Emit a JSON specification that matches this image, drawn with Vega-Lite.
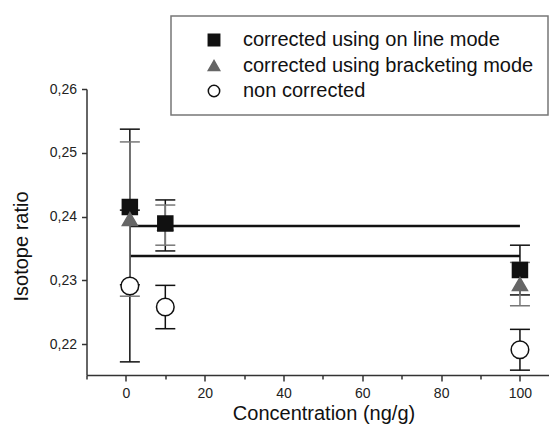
{
  "$schema": "https://vega.github.io/schema/vega-lite/v6.json",
  "autosize": {"type": "none"},
  "padding": {"left": 86.5, "top": 89, "right": 0, "bottom": 49},
  "width": 463,
  "height": 286,
  "background": "white",
  "config": {
    "view": {"stroke": null},
    "font": "Liberation Sans",
    "axis": {"domainColor": "#333", "domainWidth": 1.5, "tickColor": "#333", "tickWidth": 1.5, "grid": false, "labelFont": "Liberation Sans", "labelFontSize": 14, "labelColor": "#222", "titleFont": "Liberation Sans", "titleFontSize": 20, "titleFontWeight": "normal", "titleColor": "#111", "labelOverlap": false, "labelFlush": false},
    "legend": {"strokeWidth": 1.5, "orient": "none", "legendX": 84.5, "legendY": -73, "labelFontSize": 20, "labelFont": "Liberation Sans", "labelColor": "#111", "symbolSize": 130, "symbolStrokeWidth": 1.5, "padding": 14, "symbolOffset": 19, "labelOffset": 19, "rowPadding": 5.5, "strokeColor": "#777", "fillColor": "white", "labelLimit": 600, "labelExpr": "datum.label + '\u00a0\u00a0\u00a0\u00a0\u00a0\u00a0\u00a0\u00a0'"}
  },
  "datasets": {
    "points": [
      {"series": "corrected using on line mode", "x": 1, "y": 0.2415, "lo": 0.2293, "hi": 0.2537},
      {"series": "corrected using bracketing mode", "x": 1, "y": 0.2396, "lo": 0.2275, "hi": 0.2517},
      {"series": "corrected using bracketing mode", "x": 10, "y": 0.2389, "lo": 0.2355, "hi": 0.2418},
      {"series": "corrected using on line mode", "x": 10, "y": 0.2389, "lo": 0.2346, "hi": 0.2426},
      {"series": "corrected using on line mode", "x": 100, "y": 0.2316, "lo": 0.2277, "hi": 0.2355},
      {"series": "corrected using bracketing mode", "x": 100, "y": 0.2294, "lo": 0.226, "hi": 0.2328},
      {"series": "non corrected", "x": 1, "y": 0.2291, "lo": 0.2172, "hi": 0.241},
      {"series": "non corrected", "x": 10, "y": 0.2258, "lo": 0.2224, "hi": 0.2292},
      {"series": "non corrected", "x": 100, "y": 0.2191, "lo": 0.2159, "hi": 0.2223}
    ],
    "means": [
      {"x": 1, "x2": 100, "y": 0.2385},
      {"x": 1, "x2": 100, "y": 0.2338}
    ]
  },
  "layer": [
    {
      "data": {"name": "means"},
      "mark": {"type": "rule", "strokeWidth": 2.5, "color": "#111"},
      "encoding": {
        "x": {"field": "x", "type": "quantitative", "scale": {"domain": [-10, 107.5], "nice": false, "zero": false},
          "axis": {"title": "Concentration (ng/g)", "values": [-10, 0, 10, 20, 30, 40, 50, 60, 70, 80, 90, 100],
            "labelExpr": "datum.value % 20 == 0 ? datum.label : ''",
            "tickSize": {"condition": {"test": "datum.value % 20 == 0", "value": 6}, "value": 4},
            "labelPadding": 5, "titleX": 237, "titleY": 38, "titleBaseline": "middle", "titleAlign": "center"}},
        "x2": {"field": "x2"},
        "y": {"field": "y", "type": "quantitative", "scale": {"domain": [0.21514, 0.26], "nice": false, "zero": false},
          "axis": {"title": "Isotope ratio", "values": [0.22, 0.225, 0.23, 0.235, 0.24, 0.245, 0.25, 0.255, 0.26],
            "labelExpr": "abs(datum.value*100 - round(datum.value*100)) < 0.01 ? replace(format(datum.value, '.2f'), '.', ',') : ''",
            "tickSize": {"condition": {"test": "abs(datum.value*100 - round(datum.value*100)) < 0.01", "value": 5}, "value": 3},
            "labelPadding": 5, "titleX": -65, "titleY": 157, "titleBaseline": "middle", "titleAlign": "center", "titleAngle": -90}}
      }
    },
    {
      "data": {"name": "points"},
      "transform": [{"filter": "datum.series != 'corrected using bracketing mode'"}],
      "mark": {"type": "rule", "strokeWidth": 1.5, "color": "#111"},
      "encoding": {
        "x": {"field": "x", "type": "quantitative", "title": "Concentration (ng/g)"},
        "y": {"field": "lo", "type": "quantitative", "title": "Isotope ratio"},
        "y2": {"field": "hi"}
      }
    },
    {
      "data": {"name": "points"},
      "transform": [{"filter": "datum.series != 'corrected using bracketing mode'"}],
      "mark": {"type": "tick", "orient": "horizontal", "size": 20, "thickness": 1.5, "opacity": 1, "color": "#111"},
      "encoding": {
        "x": {"field": "x", "type": "quantitative", "title": "Concentration (ng/g)"},
        "y": {"field": "hi", "type": "quantitative", "title": "Isotope ratio"}
      }
    },
    {
      "data": {"name": "points"},
      "transform": [{"filter": "datum.series != 'corrected using bracketing mode'"}],
      "mark": {"type": "tick", "orient": "horizontal", "size": 20, "thickness": 1.5, "opacity": 1, "color": "#111"},
      "encoding": {
        "x": {"field": "x", "type": "quantitative", "title": "Concentration (ng/g)"},
        "y": {"field": "lo", "type": "quantitative", "title": "Isotope ratio"}
      }
    },
    {
      "data": {"name": "points"},
      "transform": [{"filter": "datum.series == 'corrected using bracketing mode'"}],
      "mark": {"type": "rule", "strokeWidth": 1.5, "color": "#777"},
      "encoding": {
        "x": {"field": "x", "type": "quantitative", "title": "Concentration (ng/g)"},
        "y": {"field": "lo", "type": "quantitative", "title": "Isotope ratio"},
        "y2": {"field": "hi"}
      }
    },
    {
      "data": {"name": "points"},
      "transform": [{"filter": "datum.series == 'corrected using bracketing mode'"}],
      "mark": {"type": "tick", "orient": "horizontal", "size": 20, "thickness": 1.5, "opacity": 1, "color": "#777"},
      "encoding": {
        "x": {"field": "x", "type": "quantitative", "title": "Concentration (ng/g)"},
        "y": {"field": "hi", "type": "quantitative", "title": "Isotope ratio"}
      }
    },
    {
      "data": {"name": "points"},
      "transform": [{"filter": "datum.series == 'corrected using bracketing mode'"}],
      "mark": {"type": "tick", "orient": "horizontal", "size": 20, "thickness": 1.5, "opacity": 1, "color": "#777"},
      "encoding": {
        "x": {"field": "x", "type": "quantitative", "title": "Concentration (ng/g)"},
        "y": {"field": "lo", "type": "quantitative", "title": "Isotope ratio"}
      }
    },
    {
      "data": {"name": "points"},
      "transform": [{"filter": "datum.series != 'non corrected'"}],
      "mark": {"type": "point", "filled": true, "size": 225, "strokeWidth": 1.5, "opacity": 1},
      "encoding": {
        "x": {"field": "x", "type": "quantitative", "title": "Concentration (ng/g)"},
        "y": {"field": "y", "type": "quantitative", "title": "Isotope ratio"},
        "shape": {"field": "series", "type": "nominal", "title": null,
          "scale": {"domain": ["corrected using on line mode", "corrected using bracketing mode", "non corrected"], "range": ["square", "triangle-up", "circle"]}},
        "fill": {"field": "series", "type": "nominal", "title": null,
          "scale": {"domain": ["corrected using on line mode", "corrected using bracketing mode", "non corrected"], "range": ["#111", "#666", "white"]}},
        "stroke": {"field": "series", "type": "nominal", "title": null,
          "scale": {"domain": ["corrected using on line mode", "corrected using bracketing mode", "non corrected"], "range": ["#111", "#666", "#111"]}}
      }
    },
    {
      "data": {"name": "points"},
      "transform": [{"filter": "datum.series == 'non corrected'"}],
      "mark": {"type": "point", "filled": true, "size": 310, "strokeWidth": 1.5, "opacity": 1},
      "encoding": {
        "x": {"field": "x", "type": "quantitative", "title": "Concentration (ng/g)"},
        "y": {"field": "y", "type": "quantitative", "title": "Isotope ratio"},
        "shape": {"field": "series", "type": "nominal", "title": null},
        "fill": {"field": "series", "type": "nominal", "title": null},
        "stroke": {"field": "series", "type": "nominal", "title": null}
      }
    }
  ]
}
